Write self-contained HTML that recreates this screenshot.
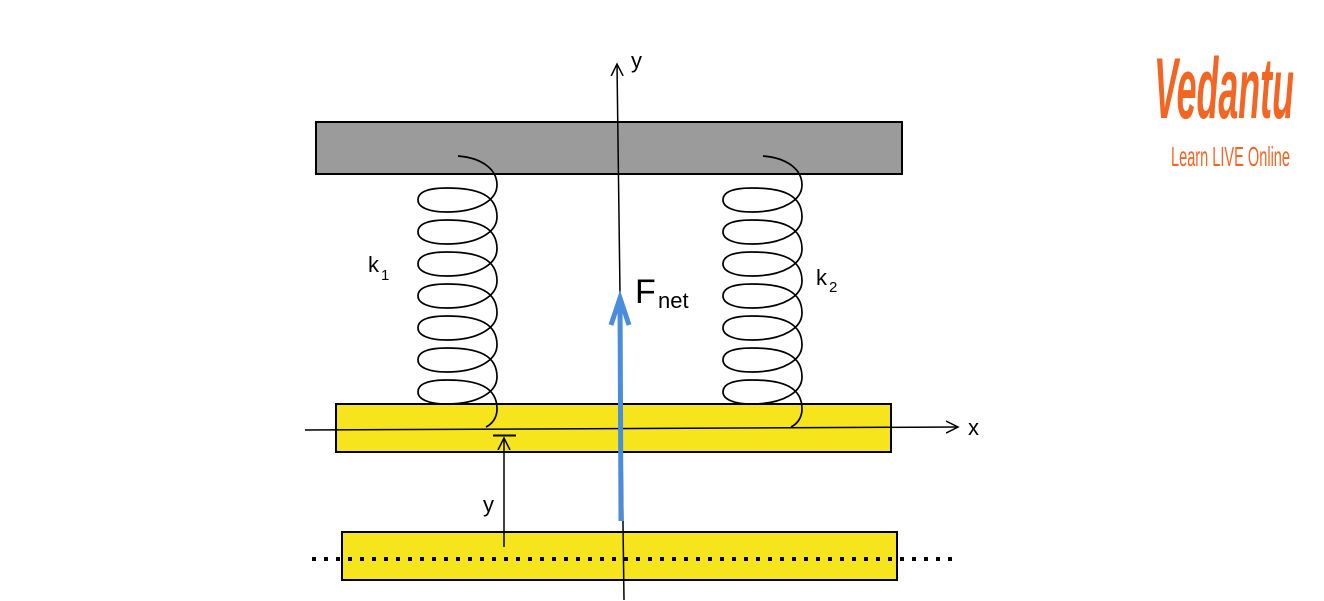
<!DOCTYPE html>
<html><head><meta charset="utf-8"><style>
html,body{margin:0;padding:0;background:#fff;width:1324px;height:601px;overflow:hidden}
svg{display:block}
text{font-family:"Liberation Sans",Arial,sans-serif}
</style></head><body>
<svg width="1324" height="601" viewBox="0 0 1324 601" xmlns="http://www.w3.org/2000/svg">
<defs>
<marker id="ah" markerWidth="14" markerHeight="14" refX="12" refY="7" orient="auto" markerUnits="userSpaceOnUse">
<path d="M0,1 L12,7 L0,13" fill="none" stroke="#000" stroke-width="1.5"/>
</marker>
<path id="turn" fill="none" stroke="#000" stroke-width="1.7" d="M39,185 C39,200 20,212 -11,212 C-30,212 -40,207 -40,200 C-40,192 -30,188 -11,188 C20,188 39,195 39,217"/>
<g id="spring">
<path fill="none" stroke="#000" stroke-width="1.7" d="M0,156 C25,158 39,170 39,185 M39,409 C39,418 34,424 28,427"/>
<use href="#turn" y="0"/>
<use href="#turn" y="32"/>
<use href="#turn" y="64"/>
<use href="#turn" y="96"/>
<use href="#turn" y="128"/>
<use href="#turn" y="160"/>
<use href="#turn" y="192"/>
</g>
</defs>
<rect x="316" y="122" width="586" height="52" fill="#9b9b9b" stroke="#000" stroke-width="2"/>
<rect x="336" y="404" width="555" height="48" fill="#f6e41c" stroke="#000" stroke-width="2"/>
<rect x="342" y="532" width="555" height="48" fill="#f6e41c" stroke="#000" stroke-width="2"/>
<use href="#spring" x="458" y="0"/>
<use href="#spring" x="763" y="0"/>
<line x1="305" y1="430" x2="958" y2="427" stroke="#000" stroke-width="1.5" marker-end="url(#ah)"/>
<text x="968" y="435" font-size="22">x</text>
<line x1="624" y1="600" x2="617" y2="64" stroke="#000" stroke-width="1.5" marker-end="url(#ah)"/>
<text x="631" y="68" font-size="22">y</text>
<line x1="621" y1="521" x2="620" y2="298" stroke="#4a8ddc" stroke-width="5"/>
<path d="M611,325 L620,298 L629,325" fill="none" stroke="#4a8ddc" stroke-width="5"/>
<text x="635" y="303" font-size="34">F</text>
<text x="658" y="308" font-size="22">net</text>
<line x1="504" y1="547" x2="504" y2="438" stroke="#000" stroke-width="1.5" marker-end="url(#ah)"/>
<line x1="493" y1="435.5" x2="516" y2="435.5" stroke="#000" stroke-width="2"/>
<text x="483" y="512" font-size="22">y</text>
<text x="368" y="272" font-size="22">k</text>
<text x="381" y="280" font-size="15">1</text>
<text x="816" y="285" font-size="22">k</text>
<text x="829" y="292" font-size="15">2</text>
<line x1="312" y1="559" x2="958" y2="559" stroke="#000" stroke-width="4" stroke-dasharray="4 8"/>
<text x="1154" y="118" font-size="86" fill="#f26522" font-style="italic" font-weight="bold" textLength="140" lengthAdjust="spacingAndGlyphs" font-family="Liberation Sans Narrow, Liberation Sans, sans-serif">Vedantu</text>
<text x="1171" y="166" font-size="28" fill="#f26522" textLength="119" lengthAdjust="spacingAndGlyphs" font-family="Liberation Sans Narrow, Liberation Sans, sans-serif">Learn LIVE Online</text>
</svg>
</body></html>
